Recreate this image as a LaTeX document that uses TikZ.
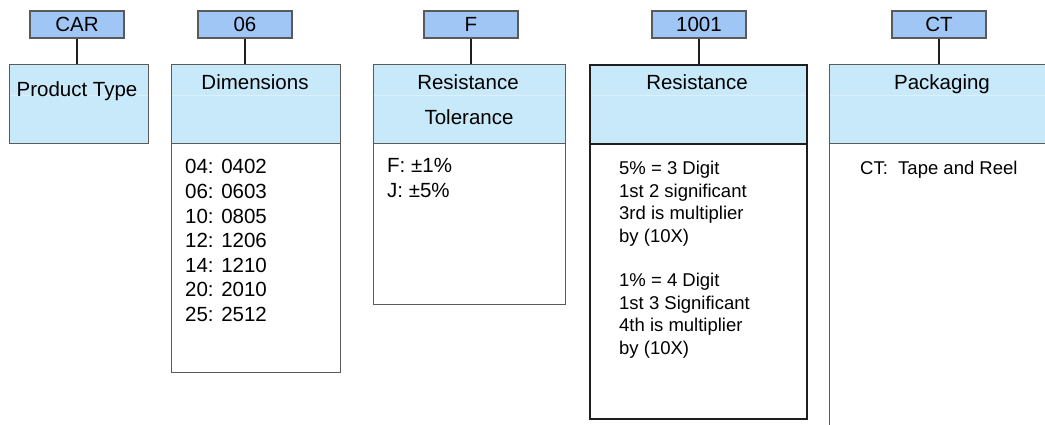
\documentclass[tikz,border=0pt]{standalone}
\usepackage{fontspec}
\setmainfont{Liberation Sans}
\definecolor{tagblue}{HTML}{A0C6F6}
\definecolor{headblue}{HTML}{C8E9FA}
\definecolor{edgegrey}{HTML}{5A5A5A}
\definecolor{inkdark}{HTML}{1E1E1E}
\tikzset{
  codetag/.style={draw=edgegrey, fill=tagblue, line width=1.2pt,
    minimum width=94pt, minimum height=27pt, inner sep=0pt,
    font=\fontsize{20.5}{24}\selectfont},
  headbox/.style={draw=edgegrey, fill=headblue, line width=1.2pt,
    minimum height=79pt, inner sep=0pt, anchor=north west},
  bodybox/.style={draw=edgegrey, fill=white, line width=1.2pt,
    inner sep=0pt, anchor=north west},
  heavy/.style={draw=inkdark, line width=2.4pt},
  headtext/.style={anchor=base, inner sep=0pt, font=\fontsize{20.5}{24}\selectfont},
  bigbody/.style={anchor=north west, inner sep=0pt, align=left,
    font=\fontsize{20.5}{24.6}\selectfont},
  smallbody/.style={anchor=north west, inner sep=0pt, align=left,
    font=\fontsize{18.5}{22.4}\selectfont},
  lineitem/.style={anchor=base west, inner sep=0pt,
    font=\fontsize{18.5}{22.4}\selectfont},
  stem/.style={draw=inkdark, line width=1.3pt},
  sheen/.style={draw=white, line width=0.6pt, opacity=0.35}
}
\begin{document}
\begin{tikzpicture}[x=1pt, y=-1pt]
\useasboundingbox (0,0) rectangle (1045,425);
\clip (0,0) rectangle (1045,425);

% code tags
\node[codetag] (tcar) at (77,24.5) {CAR};
\node[codetag] (tdim) at (245,24.5) {06};
\node[codetag] (ttol) at (471,24.5) {F};
\node[codetag] (tres) at (699,24.5) {1001};
\node[codetag] (tpck) at (939,24.5) {CT};

% field boxes: header and body
\node[headbox, minimum width=139pt] (hpt) at (9,64) {};

\node[bodybox, minimum width=169pt, minimum height=229pt] (bdim) at (171,143) {};
\node[headbox, minimum width=169pt] (hdim) at (171,64) {};

\node[bodybox, minimum width=192pt, minimum height=161pt] (btol) at (373,143) {};
\node[headbox, minimum width=192pt] (htol) at (373,64) {};

\node[bodybox, heavy, minimum width=217pt, minimum height=275pt] (bres) at (589,143) {};
\node[headbox, heavy, minimum width=217pt] (hres) at (589,64) {};

\node[bodybox, minimum width=240pt, minimum height=300pt] (bpck) at (829,143) {};
\node[headbox, minimum width=240pt] (hpck) at (829,64) {};

% faint rule across each header
\draw[sheen] ([xshift=1pt]hpt.west |- 0,95) -- ([xshift=-1pt]hpt.east |- 0,95);
\draw[sheen] ([xshift=1pt]hdim.west |- 0,95) -- ([xshift=-1pt]hdim.east |- 0,95);
\draw[sheen] ([xshift=1pt]htol.west |- 0,95) -- ([xshift=-1pt]htol.east |- 0,95);
\draw[sheen] ([xshift=2pt]hres.west |- 0,95) -- ([xshift=-2pt]hres.east |- 0,95);
\draw[sheen] ([xshift=1pt]hpck.west |- 0,95) -- (1045,95);

% stems from tags to headers
\draw[stem] (tcar.south) -- (tcar.south |- hpt.north);
\draw[stem] (tdim.south) -- (tdim.south |- hdim.north);
\draw[stem] (ttol.south) -- (ttol.south |- htol.north);
\draw[stem] (tres.south) -- (tres.south |- hres.north);
\draw[stem] (tpck.south) -- (tpck.south |- hpck.north);

% header titles
\node[headtext] (lpt) at (77,97) {Product Type};
\node[headtext] (ldim) at (255,90) {Dimensions};
\node[headtext] (ltol1) at (468,90) {Resistance};
\node[headtext] (ltol2) at (469,125) {Tolerance};
\node[headtext] (lres) at (697,90) {Resistance};
\node[headtext] (lpck) at (942,90) {Packaging};

% body contents
\node[bigbody] (vdim) at (185,159.3) {04: 0402\\06: 0603\\10: 0805\\12: 1206\\14: 1210\\20: 2010\\25: 2512};
\node[bigbody] (vtol) at (387,158.2) {F: ±1\%\\J: ±5\%};
\node[smallbody] (vres) at (619,161.3) {5\% = 3 Digit\\1st 2 significant\\3rd is multiplier\\by (10X)\\[22.4pt]1\% = 4 Digit\\1st 3 Significant\\4th is multiplier\\by (10X)};
\node[lineitem] (vpck) at (860,175) {CT:\ \ Tape and Reel};
\end{tikzpicture}
\end{document}
